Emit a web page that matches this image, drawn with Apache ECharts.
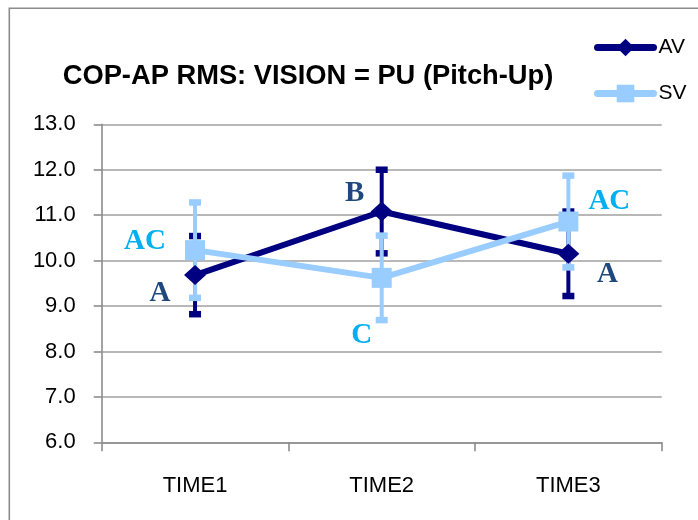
<!DOCTYPE html>
<html>
<head>
<meta charset="utf-8">
<script src="https://cdn.jsdelivr.net/npm/echarts@6/dist/echarts.min.js"></script>
<style>html,body{margin:0;padding:0;background:#fff;}#c{width:698px;height:520px;}</style>
</head>
<body>
<div id="c"></div>
<script>
const categories = ['TIME1', 'TIME2', 'TIME3'];
const avMean = [9.68, 11.08, 10.15];
const avErr = [0.86, 0.92, 0.93];
const svMean = [10.23, 9.62, 10.86];
const svErr = [1.05, 0.93, 1.01];
const avLetters = ['A', 'B', 'A'];
const svLetters = ['AC', 'C', 'AC'];
const yTicks = [6, 7, 8, 9, 10, 11, 12, 13];

const AV_COLOR = '#000080';
const SV_COLOR = '#99CCFF';
const AV_TEXT = '#1F497D';
const SV_TEXT = '#00B0F0';

function errData(mean, err) {
  return mean.map((m, i) => [i, m - err[i], m + err[i]]);
}
function errSeries(mean, err, color, z) {
  return {
    type: 'custom', z: z, silent: true,
    data: errData(mean, err),
    encode: { x: 0, y: [1, 2] },
    renderItem: function (params, api) {
      const i = api.value(0);
      const pLo = api.coord([i, api.value(1)]);
      const pHi = api.coord([i, api.value(2)]);
      const w = 6;
      return {
        type: 'group',
        children: [
          { type: 'line', shape: { x1: pHi[0], y1: pHi[1], x2: pLo[0], y2: pLo[1] }, style: { stroke: color, lineWidth: 4 } },
          { type: 'line', shape: { x1: pHi[0] - w, y1: pHi[1], x2: pHi[0] + w, y2: pHi[1] }, style: { stroke: color, lineWidth: 6.5 } },
          { type: 'line', shape: { x1: pLo[0] - w, y1: pLo[1], x2: pLo[0] + w, y2: pLo[1] }, style: { stroke: color, lineWidth: 6.5 } }
        ]
      };
    }
  };
}
function letterSeries(mean, letters, offsets, color) {
  return {
    type: 'scatter', z: 10, silent: true,
    symbol: 'circle', symbolSize: 0.1,
    itemStyle: { color: 'transparent', opacity: 1 },
    data: mean.map((m, i) => ({
      value: [i, m],
      label: {
        show: true, position: 'inside', formatter: letters[i], offset: offsets[i],
        color: color, opacity: 1, textBorderWidth: 0, textBorderColor: 'transparent', textShadowBlur: 0,
        fontFamily: 'Liberation Serif', fontWeight: 'bold', fontSize: 29
      }
    }))
  };
}

const chart = echarts.init(document.getElementById('c'), null, { renderer: 'canvas' });
chart.setOption({
  backgroundColor: '#ffffff',
  animation: false,
  graphic: [
    { type: 'rect', z: -1, shape: { x: 9.3, y: 8.3, width: 800, height: 600 }, style: { fill: 'transparent', stroke: '#8c8c8c', lineWidth: 1.6 } },
    { type: 'text', x: 308, y: 63, style: { text: 'COP-AP RMS: VISION = PU (Pitch-Up)', fill: '#000', font: 'bold 27.3px "Liberation Sans"', align: 'center', verticalAlign: 'top', textAlign: 'center', textVerticalAlign: 'top' } }
  ],
  legend: {
    data: ['AV', 'SV'],
    orient: 'vertical', left: 589, top: 32,
    itemWidth: 56, itemHeight: 22, itemGap: 25,
    lineStyle: { width: 7, cap: 'round' },
    textStyle: { fontFamily: 'Liberation Sans', fontSize: 21, color: '#000' }
  },
  grid: { left: 101.7, right: 36.3, top: 124.3, bottom: 77.7 },
  xAxis: {
    type: 'category', data: categories, boundaryGap: true,
    axisLine: { lineStyle: { color: '#8c8c8c', width: 1.6 } },
    axisTick: { show: true, length: 9, alignWithLabel: false, lineStyle: { color: '#8c8c8c', width: 1.6 } },
    axisLabel: { margin: 33, fontFamily: 'Liberation Sans', fontSize: 22, color: '#000' }
  },
  yAxis: {
    type: 'value', min: yTicks[0], max: yTicks[yTicks.length - 1], interval: 1,
    axisLine: { show: true, lineStyle: { color: '#8c8c8c', width: 1.6 } },
    axisTick: { show: true, length: 8, lineStyle: { color: '#8c8c8c', width: 1.6 } },
    splitLine: { show: true, lineStyle: { color: '#a0a0a0', width: 1.6 } },
    axisLabel: { margin: 26, fontFamily: 'Liberation Sans', fontSize: 22, color: '#000', formatter: v => v.toFixed(1) }
  },
  series: [
    errSeries(avMean, avErr, AV_COLOR, 1),
    errSeries(svMean, svErr, SV_COLOR, 2),
    {
      name: 'AV', type: 'line', z: 3, data: avMean,
      symbol: 'diamond', symbolSize: [22, 20], showAllSymbol: true,
      lineStyle: { color: AV_COLOR, width: 6 },
      itemStyle: { color: AV_COLOR, borderWidth: 0 }
    },
    {
      name: 'SV', type: 'line', z: 4, data: svMean,
      symbol: 'rect', symbolSize: [20, 20], showAllSymbol: true,
      lineStyle: { color: SV_COLOR, width: 6 },
      itemStyle: { color: SV_COLOR, borderWidth: 0 }
    },
    letterSeries(avMean, avLetters, [[-35, 18], [-27, -18], [39, 21]], AV_TEXT),
    letterSeries(svMean, svLetters, [[-50, -9], [-20, 58], [41, -20]], SV_TEXT)
  ]
});
</script>
</body>
</html>
